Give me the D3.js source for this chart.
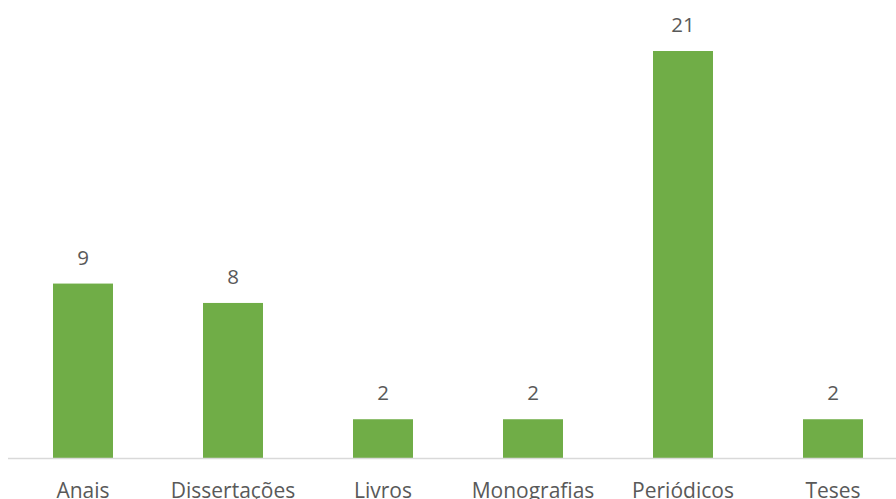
<!DOCTYPE html>
<html><head><meta charset="utf-8">
<script src="https://cdn.jsdelivr.net/npm/d3@7"></script>
<style>body{margin:0;background:#fff}svg{display:block}</style>
</head><body>
<script>
const categories = ["Anais","Dissertações","Livros","Monografias","Periódicos","Teses"];
const values = [9, 8, 2, 2, 21, 2];

const W = 896, H = 499;
const svg = d3.select("body").append("svg").attr("width", W).attr("height", H);
const baseY = 458;
const x = d3.scaleBand().domain(categories).range([8, 908]).paddingInner(0.6).paddingOuter(0.3);
const y = d3.scaleLinear().domain([0, 21]).range([baseY, 51]);
const font = "'Open Sans', sans-serif";

svg.append("g").selectAll("rect").data(categories).join("rect")
  .attr("x", d => x(d)).attr("width", x.bandwidth())
  .attr("y", (d,i) => y(values[i])).attr("height", (d,i) => baseY - y(values[i]))
  .attr("fill", "#70AD47");

svg.append("line").attr("x1", 8).attr("x2", W).attr("y1", baseY + 0.5).attr("y2", baseY + 0.5)
  .attr("stroke", "#D9D9D9").attr("stroke-width", 1.5);

svg.append("g").selectAll("text").data(categories).join("text")
  .attr("x", d => x(d) + x.bandwidth()/2).attr("y", (d,i) => y(values[i]) - 19)
  .attr("text-anchor", "middle").attr("font-family", font).attr("font-size", 20.5)
  .attr("fill", "#595959").text((d,i) => values[i]);

const xAxis = d3.axisBottom(x).tickSize(0).tickPadding(0);
const ax = svg.append("g").attr("transform", `translate(0,${baseY})`).call(xAxis);
ax.select(".domain").remove();
ax.selectAll("text").attr("font-family", font).attr("font-size", 21).attr("fill", "#595959")
  .attr("dy", null).attr("y", 39.5);
</script>
</body></html>
